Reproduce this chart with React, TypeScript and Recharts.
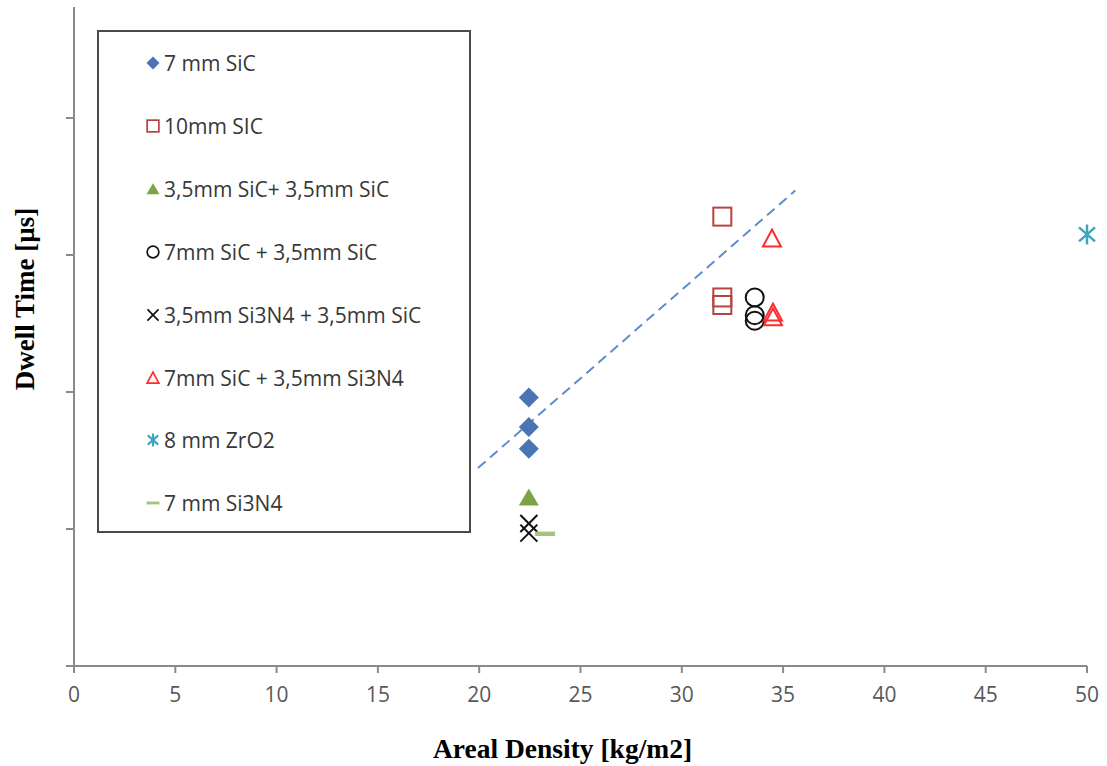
import React from 'react';
import { ScatterChart, Scatter, XAxis, YAxis, Legend } from 'recharts';

// ---- data ----
const sic7 = [{ x: 22.45, y: 1.96 }, { x: 22.45, y: 1.745 }, { x: 22.45, y: 1.585 }];
const sic10 = [{ x: 32.0, y: 3.28 }, { x: 32.0, y: 2.69 }, { x: 32.0, y: 2.635 }];
const sic35sic35 = [{ x: 22.45, y: 1.23 }];
const sic7sic35 = [{ x: 33.6, y: 2.69 }, { x: 33.6, y: 2.56 }, { x: 33.6, y: 2.52 }];
const si3n4sic35 = [{ x: 22.45, y: 1.04 }, { x: 22.45, y: 0.97 }];
const sic7si3n4 = [{ x: 34.45, y: 3.12 }, { x: 34.5, y: 2.58 }, { x: 34.5, y: 2.545 }];
const zro2 = [{ x: 50.0, y: 3.15 }];
const si3n4 = [{ x: 23.25, y: 0.965 }];
const trend = [{ x: 19.94, y: 1.445 }, { x: 35.6, y: 3.47 }];

const xTicks = [0, 5, 10, 15, 20, 25, 30, 35, 40, 45, 50];
const yTicks = [0, 1, 2, 3, 4];

const seriesNames = [
  '7 mm SiC',
  '10mm SIC',
  '3,5mm SiC+ 3,5mm SiC',
  '7mm SiC + 3,5mm SiC',
  '3,5mm Si3N4 + 3,5mm SiC',
  '7mm SiC + 3,5mm Si3N4',
  '8 mm ZrO2',
  '7 mm Si3N4',
];

const C = {
  blue: '#4a74b4',
  red: '#b5443f',
  green: '#7ea345',
  black: '#111111',
  red2: '#ff2b2b',
  cyan: '#3fa4be',
  lime: '#a3c47a',
  trend: '#5b8dd0',
  axis: '#8a8a8a',
};

type MK = 'diamond' | 'square' | 'triangle' | 'circle' | 'x' | 'otriangle' | 'asterisk' | 'dash';
const markers: MK[] = ['diamond', 'square', 'triangle', 'circle', 'x', 'otriangle', 'asterisk', 'dash'];
const colors = [C.blue, C.red, C.green, C.black, C.black, C.red2, C.cyan, C.lime];

function Marker({ kind, cx, cy, s, color }: { kind: MK; cx: number; cy: number; s: number; color: string }) {
  const h = s / 2;
  const sw = s > 14 ? 2 : 1.7;
  switch (kind) {
    case 'diamond':
      return <polygon points={`${cx},${cy - h} ${cx + h},${cy} ${cx},${cy + h} ${cx - h},${cy}`} fill={color} />;
    case 'square':
      return <rect x={cx - h * 0.9} y={cy - h * 0.9} width={s * 0.9} height={s * 0.9} fill="none" stroke={color} strokeWidth={sw} />;
    case 'triangle':
      return <polygon points={`${cx},${cy - h * 0.9} ${cx + h},${cy + h * 0.8} ${cx - h},${cy + h * 0.8}`} fill={color} />;
    case 'otriangle':
      return <polygon points={`${cx},${cy - h * 0.9} ${cx + h * 0.9},${cy + h * 0.8} ${cx - h * 0.9},${cy + h * 0.8}`} fill="none" stroke={color} strokeWidth={sw} />;
    case 'circle':
      return <circle cx={cx} cy={cy} r={h * 0.9} fill="none" stroke={color} strokeWidth={sw} />;
    case 'x':
      return (
        <g stroke={color} strokeWidth={sw}>
          <line x1={cx - h * 0.85} y1={cy - h * 0.85} x2={cx + h * 0.85} y2={cy + h * 0.85} />
          <line x1={cx - h * 0.85} y1={cy + h * 0.85} x2={cx + h * 0.85} y2={cy - h * 0.85} />
        </g>
      );
    case 'asterisk':
      return (
        <g stroke={color} strokeWidth={sw + 0.5}>
          <line x1={cx - h * 0.8} y1={cy - h * 0.7} x2={cx + h * 0.8} y2={cy + h * 0.7} />
          <line x1={cx - h * 0.8} y1={cy + h * 0.7} x2={cx + h * 0.8} y2={cy - h * 0.7} />
          <line x1={cx} y1={cy - h} x2={cx} y2={cy + h} />
        </g>
      );
    case 'dash':
      return <rect x={cx - h} y={cy - s * 0.11} width={s} height={s * 0.22} fill={color} />;
  }
  return null;
}

const mkShape = (i: number) => (props: any) => (
  <Marker kind={markers[i]} cx={props.cx} cy={props.cy} s={20} color={colors[i]} />
);

const LegendBox = () => (
  <div
    style={{
      position: 'absolute',
      left: 97,
      top: 30,
      width: 374,
      height: 503,
      border: '2px solid #4a4a4a',
      background: '#fff',
      boxSizing: 'border-box',
      fontFamily: '"Open Sans", sans-serif',
      fontSize: 21,
      color: '#383838',
    }}
  >
    {seriesNames.map((n, i) => (
      <div
        key={n}
        style={{ position: 'absolute', left: 46, top: 17 + i * 62.9, height: 28, display: 'flex', alignItems: 'center', whiteSpace: 'nowrap' }}
      >
        <svg width={16} height={16} style={{ marginRight: 3 }}>
          <Marker kind={markers[i]} cx={8} cy={8} s={13} color={colors[i]} />
        </svg>
        <span>{n}</span>
      </div>
    ))}
  </div>
);

const YTitle = (props: any) => {
  const { x, y, height } = props.viewBox;
  const cx = x + 25;
  const cy = y + height * 0.443;
  return (
    <text
      x={cx}
      y={cy}
      transform={`rotate(-90 ${cx} ${cy})`}
      textAnchor="middle"
      dominantBaseline="central"
      style={{ fontFamily: '"Liberation Serif", serif', fontWeight: 'bold', fontSize: 27, fill: '#000' }}
    >
      Dwell Time [µs]
    </text>
  );
};

const XTitle = (props: any) => {
  const { x, y, width } = props.viewBox;
  const cx = x + width / 2 - 18;
  const cy = y + 82;
  return (
    <text
      x={cx}
      y={cy}
      textAnchor="middle"
      dominantBaseline="central"
      style={{ fontFamily: '"Liberation Serif", serif', fontWeight: 'bold', fontSize: 27.5, fill: '#000' }}
    >
      Areal Density [kg/m2]
    </text>
  );
};

const seriesData = [sic7, sic10, sic35sic35, sic7sic35, si3n4sic35, sic7si3n4, zro2, si3n4];

export default function App() {
  return (
    <div style={{ position: 'absolute', left: 0, top: 0, width: 1107, height: 766, background: '#fff' }}>
      <ScatterChart width={1107} height={766} margin={{ top: 7, right: 20, bottom: 0, left: 0 }}>
        <XAxis
          type="number"
          dataKey="x"
          domain={[0, 50]}
          ticks={xTicks}
          interval={0}
          stroke={C.axis}
          strokeWidth={2}
          tickSize={7}
          tickMargin={14}
          height={100}
          tick={{ fill: '#595959', fontSize: 21, fontFamily: '"Open Sans", sans-serif' }}
          label={{ content: XTitle }}
        />
        <YAxis
          type="number"
          dataKey="y"
          domain={[0, 4.81]}
          ticks={yTicks}
          interval={0}
          allowDataOverflow
          stroke={C.axis}
          strokeWidth={2}
          tickSize={8}
          width={74}
          tickFormatter={() => ''}
          label={{ content: YTitle }}
        />
        <Scatter
          data={trend}
          line={{ stroke: C.trend, strokeWidth: 2, strokeDasharray: '10 6' }}
          shape={() => <g />}
          isAnimationActive={false}
          legendType="none"
        />
        {seriesData.map((d, i) => (
          <Scatter key={seriesNames[i]} name={seriesNames[i]} data={d} shape={mkShape(i)} isAnimationActive={false} />
        ))}
        <Legend layout="horizontal" verticalAlign="middle" align="center" content={() => null} />
      </ScatterChart>
      <LegendBox />
    </div>
  );
}
